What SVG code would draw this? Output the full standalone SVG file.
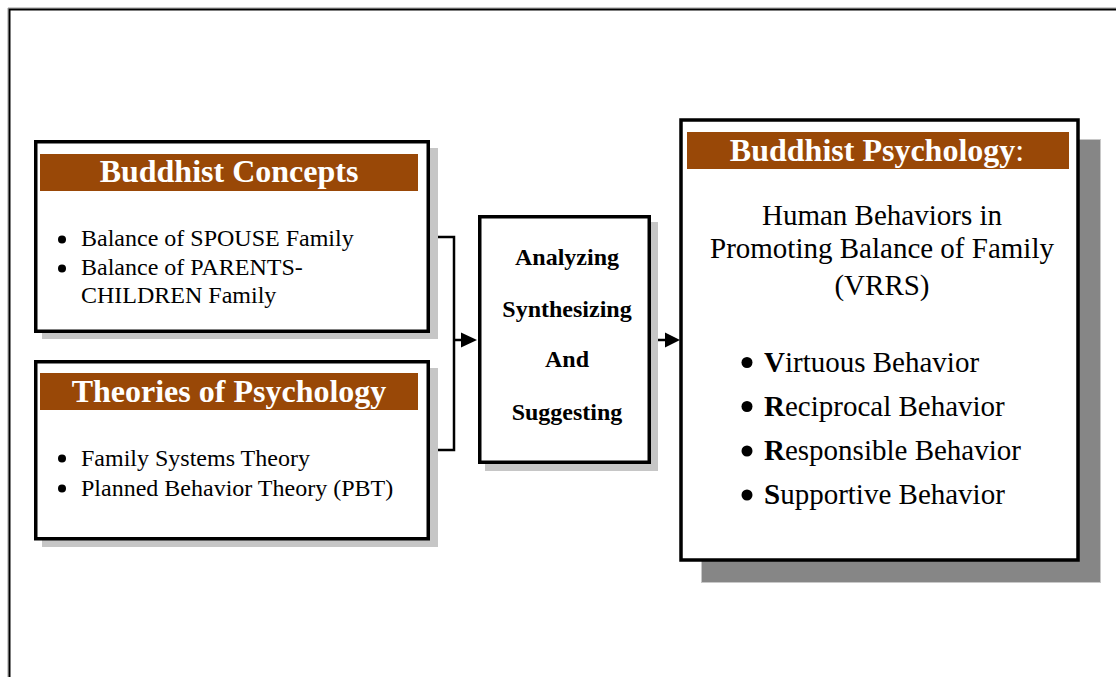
<svg xmlns="http://www.w3.org/2000/svg" width="1116" height="677" viewBox="0 0 1116 677">
<style>
text{font-family:"Liberation Serif","Times New Roman",serif;fill:#000}
.box{fill:#fff;stroke:#000;stroke-width:3.5}
.sh{fill:#c6c6c6}
.band{fill:#994807}
.ttl{font-size:32px;font-weight:bold;fill:#fff;text-anchor:middle}
.li{font-size:24px}
.mid{font-size:24px;font-weight:bold;text-anchor:middle}
.rt{font-size:29px}
.conn{fill:none;stroke:#000;stroke-width:2.5}
</style>
<defs>
<marker id="ah" viewBox="0 0 10 10" refX="10" refY="5" markerWidth="6" markerHeight="6" markerUnits="userSpaceOnUse" orient="auto">
<path d="M0,0 L10,5 L0,10 z" fill="#000"/>
</marker>
</defs>
<rect width="1116" height="677" fill="#fff"/>
<g id="frame">
<path d="M8,677 V8 H1116" fill="none" stroke="#9a9a9a" stroke-width="1"/>
<path d="M9.5,677 V9.5 H1116" fill="none" stroke="#000" stroke-width="2"/>
</g>
<g id="connectors">
<polyline class="conn" points="430,237 454,237 454,450 430,450"/>
<line class="conn" x1="454" y1="340" x2="462" y2="340"/>
<path d="M461,332.5 L477,340 L461,347.5 z" fill="#000"/>
<line class="conn" x1="651" y1="340" x2="666" y2="340"/>
<path d="M665,332.5 L680,340 L665,347.5 z" fill="#000"/>
</g>
<g id="buddhist-concepts">
<rect class="sh" x="42" y="148" width="396" height="191"/>
<rect class="box" x="35.75" y="141.75" width="392.5" height="189.5"/>
<rect class="band" x="40" y="154" width="378" height="37"/>
<text class="ttl" x="229" y="182">Buddhist Concepts</text>
<circle cx="62" cy="239.5" r="4"/>
<circle cx="62" cy="268.5" r="4"/>
<text class="li" x="81" y="246">Balance of SPOUSE Family</text>
<text class="li" x="81" y="275">Balance of PARENTS-</text>
<text class="li" x="81" y="303">CHILDREN Family</text>
</g>
<g id="theories-of-psychology">
<rect class="sh" x="42" y="368" width="396" height="179"/>
<rect class="box" x="35.75" y="361.75" width="392.5" height="177"/>
<rect class="band" x="40" y="373" width="378" height="37"/>
<text class="ttl" x="229" y="402">Theories of Psychology</text>
<circle cx="62" cy="458.5" r="4"/>
<circle cx="62" cy="488.5" r="4"/>
<text class="li" x="81" y="466">Family Systems Theory</text>
<text class="li" x="81" y="496">Planned Behavior Theory (PBT)</text>
</g>
<g id="analyzing">
<rect class="sh" x="485" y="222" width="173" height="249"/>
<rect class="box" x="479.75" y="216.75" width="169.5" height="245.5"/>
<text class="mid" x="567" y="265">Analyzing</text>
<text class="mid" x="567" y="317">Synthesizing</text>
<text class="mid" x="567" y="367">And</text>
<text class="mid" x="567" y="420">Suggesting</text>
</g>
<g id="buddhist-psychology">
<rect x="701.5" y="139.5" width="399" height="443" fill="#868686" stroke="#c8c8c8" stroke-width="1"/>
<rect class="box" x="681" y="120" width="397" height="440" stroke-width="4"/>
<rect class="band" x="687" y="132" width="382" height="37"/>
<text class="ttl" x="877" y="161">Buddhist Psychology<tspan font-weight="normal">:</tspan></text>
<text class="rt" x="882" y="225" text-anchor="middle">Human Behaviors in</text>
<text class="rt" x="882" y="258" text-anchor="middle">Promoting Balance of Family</text>
<text class="rt" x="882" y="295" text-anchor="middle">(VRRS)</text>
<circle cx="747" cy="362.5" r="5.5"/>
<circle cx="747" cy="406.5" r="5.5"/>
<circle cx="747" cy="451" r="5.5"/>
<circle cx="747" cy="495" r="5.5"/>
<text class="rt" x="764" y="372"><tspan font-weight="bold">V</tspan>irtuous Behavior</text>
<text class="rt" x="764" y="416"><tspan font-weight="bold">R</tspan>eciprocal Behavior</text>
<text class="rt" x="764" y="460"><tspan font-weight="bold">R</tspan>esponsible Behavior</text>
<text class="rt" x="764" y="504"><tspan font-weight="bold">S</tspan>upportive Behavior</text>
</g>
</svg>
